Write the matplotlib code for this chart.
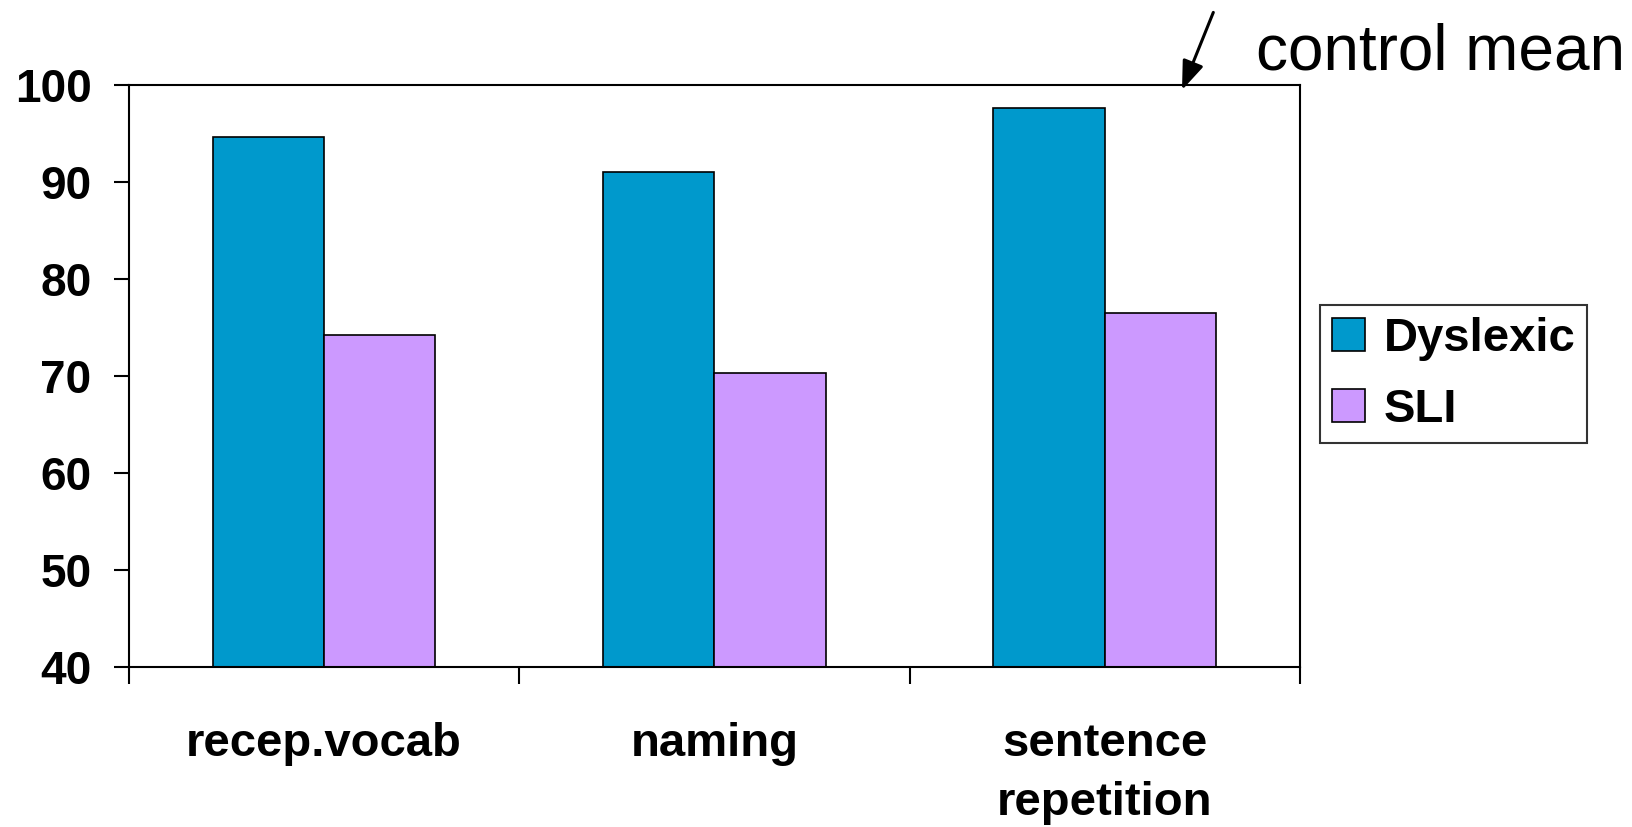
import matplotlib.pyplot as plt
import numpy as np

plt.rcParams['font.family'] = ['Liberation Sans', 'DejaVu Sans']

# scores per test
categories = ['recep.vocab', 'naming', 'sentence\nrepetition']
dyslexic = [94.7, 91.0, 97.6]
sli = [74.2, 70.3, 76.5]
groups = ['Dyslexic', 'SLI']
colors = ['#0099CC', '#CC99FF']

fig = plt.figure(figsize=(16.33, 8.27), dpi=100)
ax = fig.add_axes([0.079, 0.194, 0.717, 0.703])

x = np.arange(len(categories))
w = 0.285
ax.bar(x - w / 2, dyslexic, w, bottom=0, color=colors[0], edgecolor='black',
       linewidth=1.2, label=groups[0])
ax.bar(x + w / 2, sli, w, bottom=0, color=colors[1], edgecolor='black',
       linewidth=1.2, label=groups[1])

ax.set_ylim(40, 100)
ax.set_xlim(-0.5, len(categories) - 0.5)
ax.set_yticks(range(40, 101, 10))
ax.tick_params(axis='y', length=11, width=1.5, pad=16, labelsize=33)
for lab in ax.get_yticklabels():
    lab.set_fontweight('bold')

# boundary ticks below the axis, names centred under each group
ax.set_xticks(np.arange(len(categories) + 1) - 0.5)
ax.set_xticklabels([])
ax.tick_params(axis='x', which='major', length=12, width=1.5)
ax.set_xticks(x, minor=True)
ax.set_xticklabels(categories, minor=True, fontsize=34, fontweight='bold',
                   linespacing=1.45, va='top')
ax.tick_params(axis='x', which='minor', length=0, pad=40)

for s in ax.spines.values():
    s.set_linewidth(1.5)

leg = ax.legend(loc='center left', bbox_to_anchor=(1.017, 0.503),
                prop={'weight': 'bold', 'size': 34}, frameon=True, fancybox=False,
                edgecolor='black', handlelength=0.7, handleheight=0.7,
                handletextpad=0.4, borderpad=0.25, labelspacing=0.57,
                borderaxespad=0)
leg.get_frame().set_linewidth(1.5)

ax.annotate('', xy=(2.198, 99.5), xycoords='data',
            xytext=(0.743, 0.985), textcoords='figure fraction',
            arrowprops=dict(arrowstyle='-|>,head_length=0.8,head_width=0.3',
                            color='black', lw=2.2, mutation_scale=22,
                            shrinkA=0, shrinkB=0))
fig.text(0.769, 0.937, 'control mean', fontsize=46, ha='left', va='center')

fig.savefig('out.png', dpi=100)
